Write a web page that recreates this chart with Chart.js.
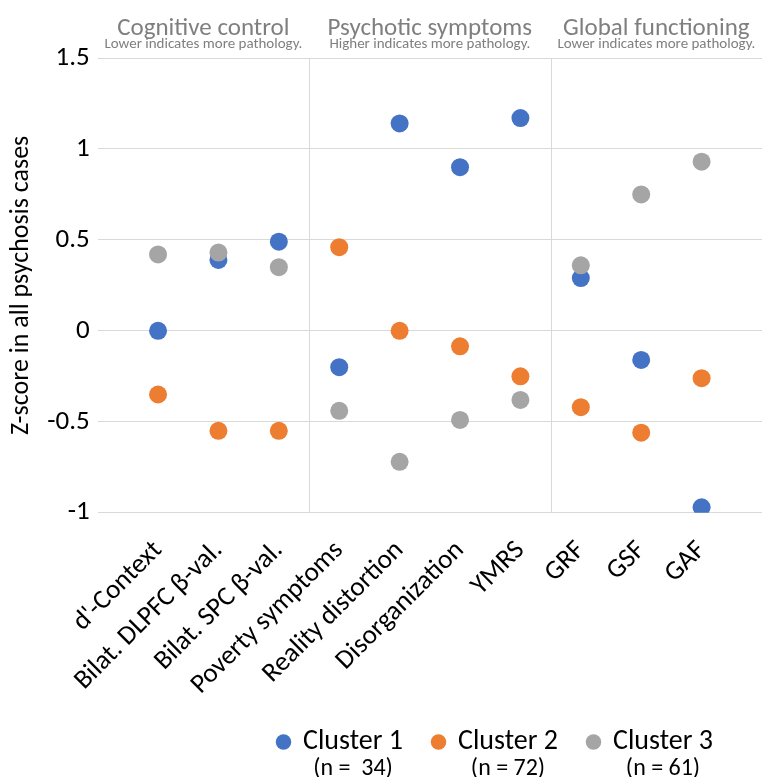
<!DOCTYPE html>
<html>
<head>
<meta charset="utf-8">
<script src="https://cdn.jsdelivr.net/npm/chart.js@4"></script>
<style>
  html, body { margin: 0; padding: 0; background: #fff; }
  #wrap { width: 771px; height: 777px; }
</style>
</head>
<body>
<div id="wrap"><canvas id="myChart"></canvas></div>
<script>
const categories = ["d'-Context", 'Bilat. DLPFC β-val.', 'Bilat. SPC β-val.', 'Poverty symptoms',
  'Reality distortion', 'Disorganization', 'YMRS', 'GRF', 'GSF', 'GAF'];
const cluster1 = [0.0, 0.39, 0.49, -0.20, 1.14, 0.90, 1.17, 0.29, -0.16, -0.97];
const cluster2 = [-0.35, -0.55, -0.55, 0.46, 0.0, -0.085, -0.25, -0.42, -0.56, -0.26];
const cluster3 = [0.42, 0.43, 0.35, -0.44, -0.72, -0.49, -0.38, 0.36, 0.75, 0.93];
const clusterNames = ['Cluster 1', 'Cluster 2', 'Cluster 3'];
const clusterN = ['(n =  34)', '(n = 72)', '(n = 61)'];
const groupTitles = ['Cognitive control', 'Psychotic symptoms', 'Global functioning'];
const groupNotes = ['Lower indicates more pathology.', 'Higher indicates more pathology.', 'Lower indicates more pathology.'];
const groupEdges = [0, 3.5, 7.5, 11];

const font = 'Carlito, Calibri, "Open Sans", sans-serif';
const legendSize = 28;
const legendBox = 11;
const legendShift = 108; // legend sits right of centre in the original

const points = vals => vals.map((v, i) => ({ x: i + 1, y: v }));

// group headers, separators and the (n = ..) lines under the legend
const extras = {
  id: 'extras',
  afterLayout(chart) {
    chart.legend.left += legendShift;
    chart.legend.right += legendShift;
  },
  beforeDatasetsDraw(chart) {
    const ctx = chart.ctx, x = chart.scales.x, a = chart.chartArea;
    ctx.save();
    ctx.strokeStyle = '#d9d9d9';
    ctx.lineWidth = 1;
    [groupEdges[1], groupEdges[2]].forEach(e => {
      const px = Math.round(x.getPixelForValue(e)) + 0.5;
      ctx.beginPath();
      ctx.moveTo(px, a.top);
      ctx.lineTo(px, a.bottom);
      ctx.stroke();
    });
    ctx.restore();
  },
  afterDraw(chart) {
    const ctx = chart.ctx, x = chart.scales.x;
    ctx.save();
    ctx.textAlign = 'center';
    ctx.fillStyle = '#7f7f7f';
    groupTitles.forEach((t, i) => {
      const cx = x.getPixelForValue((groupEdges[i] + groupEdges[i + 1]) / 2);
      ctx.font = '25px ' + font;
      ctx.fillText(t, cx, 29);
      ctx.font = '15px ' + font;
      ctx.fillText(groupNotes[i], cx, 44);
    });
    ctx.fillStyle = '#000';
    ctx.font = '24px ' + font;
    const shift = legendBox + legendSize / 2;
    chart.legend.legendHitBoxes.forEach((b, i) => {
      ctx.fillText(clusterN[i], b.left + (b.width + shift) / 2, b.top + b.height + 13);
    });
    ctx.restore();
  }
};

new Chart(document.getElementById('myChart'), {
  type: 'scatter',
  data: {
    datasets: [
      { label: clusterNames[0], data: points(cluster1), backgroundColor: '#4472C4', borderColor: '#4472C4', order: 2 },
      { label: clusterNames[1], data: points(cluster2), backgroundColor: '#ED7D31', borderColor: '#ED7D31', order: 1 },
      { label: clusterNames[2], data: points(cluster3), backgroundColor: '#A5A5A5', borderColor: '#A5A5A5', order: 0 }
    ]
  },
  options: {
    responsive: true,
    maintainAspectRatio: false,
    animation: false,
    layout: { padding: { top: 58, right: 0, bottom: 11, left: 4 } },
    elements: { point: { radius: 9, borderWidth: 0, hoverRadius: 9 } },
    scales: {
      x: {
        type: 'linear',
        min: 0,
        max: 11,
        afterBuildTicks: s => { s.ticks = categories.map((c, i) => ({ value: i + 1 })); },
        afterFit: s => { s.height -= 17; },
        ticks: {
          minRotation: 45,
          maxRotation: 45,
          padding: 14,
          color: '#000',
          font: { family: font, size: 27 },
          callback: v => categories[v - 1]
        },
        grid: { display: false },
        border: { display: false }
      },
      y: {
        min: -1,
        max: 1.5,
        ticks: { stepSize: 0.5, color: '#000', font: { family: font, size: 27 }, padding: 8, callback: v => String(v) },
        grid: { color: '#d9d9d9', drawTicks: false },
        border: { display: false },
        title: { display: true, text: 'Z-score in all psychosis cases', color: '#000', font: { family: font, size: 26 }, padding: 2 }
      }
    },
    plugins: {
      tooltip: { enabled: false },
      legend: {
        position: 'bottom',
        labels: {
          usePointStyle: true,
          pointStyle: 'circle',
          boxWidth: legendBox,
          boxHeight: legendBox,
          padding: 30,
          color: '#000',
          font: { family: font, size: legendSize },
          sort: (a, b) => a.datasetIndex - b.datasetIndex
        }
      }
    }
  },
  plugins: [extras]
});
</script>
</body>
</html>
